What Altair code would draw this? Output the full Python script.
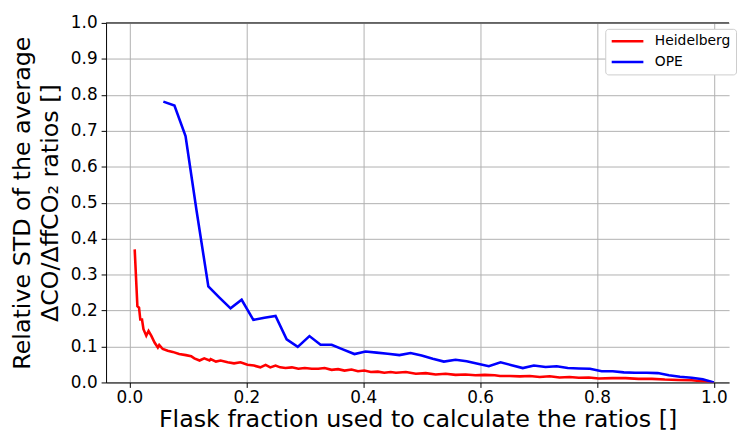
import altair as alt
import pandas as pd

# Heidelberg series
heid_x = [0.009, 0.0136, 0.0164, 0.0186, 0.0215, 0.024, 0.0288, 0.0327, 0.0373, 0.043,
          0.0486, 0.051, 0.057, 0.0655, 0.074, 0.085, 0.0966, 0.1056, 0.111, 0.12,
          0.128, 0.137, 0.139, 0.148, 0.156, 0.168, 0.179, 0.190, 0.202, 0.213,
          0.224, 0.233, 0.241, 0.250, 0.258, 0.267, 0.278, 0.289, 0.300, 0.312,
          0.323, 0.334, 0.346, 0.357, 0.368, 0.380, 0.391, 0.402, 0.413, 0.425,
          0.436, 0.447, 0.456, 0.473, 0.490, 0.507, 0.524, 0.541, 0.558, 0.575,
          0.592, 0.608, 0.625, 0.634, 0.651, 0.668, 0.685, 0.702, 0.719, 0.736,
          0.753, 0.769, 0.786, 0.803, 0.826, 0.849, 0.871, 0.894, 0.916, 0.939,
          0.962, 0.984, 1.0]
heid_y = [0.370, 0.212, 0.208, 0.175, 0.175, 0.148, 0.130, 0.143, 0.130, 0.111,
          0.097, 0.104, 0.093, 0.088, 0.085, 0.079, 0.076, 0.073, 0.067, 0.061,
          0.067, 0.061, 0.065, 0.058, 0.061, 0.056, 0.053, 0.056, 0.049, 0.047,
          0.042, 0.049, 0.042, 0.047, 0.042, 0.040, 0.042, 0.038, 0.040, 0.038,
          0.038, 0.040, 0.035, 0.037, 0.033, 0.036, 0.031, 0.033, 0.029, 0.030,
          0.027, 0.029, 0.027, 0.029, 0.024, 0.026, 0.022, 0.024, 0.021, 0.022,
          0.020, 0.021, 0.020, 0.018, 0.018, 0.017, 0.018, 0.015, 0.017, 0.014,
          0.015, 0.013, 0.014, 0.011, 0.012, 0.012, 0.010, 0.010, 0.008, 0.007,
          0.006, 0.003, 0.0]

# OPE series
ope_x = [0.058, 0.077, 0.096, 0.115, 0.135, 0.154, 0.173, 0.192, 0.212, 0.231,
         0.250, 0.269, 0.288, 0.308, 0.327, 0.346, 0.365, 0.385, 0.404, 0.423,
         0.442, 0.462, 0.481, 0.500, 0.519, 0.538, 0.558, 0.577, 0.596, 0.615,
         0.635, 0.654, 0.673, 0.692, 0.712, 0.731, 0.750, 0.769, 0.788, 0.808,
         0.827, 0.846, 0.865, 0.885, 0.904, 0.923, 0.942, 0.962, 0.981, 1.000]
ope_y = [0.781, 0.770, 0.685, 0.476, 0.267, 0.236, 0.206, 0.230, 0.174, 0.180,
         0.185, 0.120, 0.099, 0.129, 0.105, 0.105, 0.092, 0.079, 0.086, 0.083,
         0.080, 0.076, 0.082, 0.075, 0.066, 0.058, 0.063, 0.059, 0.052, 0.045,
         0.056, 0.048, 0.040, 0.047, 0.043, 0.045, 0.040, 0.039, 0.038, 0.031,
         0.031, 0.028, 0.027, 0.027, 0.026, 0.020, 0.016, 0.013, 0.009, 0.0]

series_names = ["Heidelberg", "OPE"]
series_colors = ["#ff0000", "#0000ff"]
x_ticks = [0.0, 0.2, 0.4, 0.6, 0.8, 1.0]
y_ticks = [0.0, 0.1, 0.2, 0.3, 0.4, 0.5, 0.6, 0.7, 0.8, 0.9, 1.0]
top_line = [1.0]

df = pd.concat([
    pd.DataFrame({"x": heid_x, "y": heid_y, "series": "Heidelberg"}),
    pd.DataFrame({"x": ope_x, "y": ope_y, "series": "OPE"}),
])

FONT = "DejaVu Sans"

xenc = alt.X("x:Q",
             scale=alt.Scale(domain=[-0.04, 1.026], nice=False, zero=False),
             axis=alt.Axis(values=x_ticks, format=".1f", labelOverlap=False,
                           labelPadding=2, titlePadding=2.5,
                           title="Flask fraction used to calculate the ratios []"))
yaxis = alt.Axis(values=y_ticks, format=".1f", labelOverlap=False, tickCount=11,
                 labelPadding=4, titlePadding=8, titleLineHeight=28.5,
                 title=["Relative STD of the average", "ΔCO/ΔffCO₂ ratios []"])
yscale = alt.Scale(domain=[0, 1], nice=False)

lines = alt.Chart(df).mark_line(strokeWidth=2.6, clip=True).encode(
    x=xenc,
    y=alt.Y("y:Q", scale=yscale, axis=yaxis),
    color=alt.Color("series:N",
                    scale=alt.Scale(domain=series_names, range=series_colors),
                    legend=alt.Legend(title=None, orient="none", legendX=504, legendY=6,
                                      symbolType="M-1,0H4.33", symbolSize=144,
                                      symbolStrokeWidth=2.6, labelOffset=30,
                                      labelFontSize=14, labelFont=FONT, labelColor="#000000",
                                      rowPadding=6, padding=5,
                                      fillColor="white", strokeColor="#cccccc",
                                      cornerRadius=3)),
)

top_spine = alt.Chart(pd.DataFrame({"y": top_line})).mark_rule(color="black", strokeWidth=1).encode(
    y=alt.Y("y:Q", scale=yscale, axis=yaxis)
)

chart = alt.layer(lines, top_spine).properties(
    width=629, height=363,
    padding={"left": 2, "top": 4, "right": 0, "bottom": 0},
).configure_view(stroke=None).configure_axis(
    labelFont=FONT, titleFont=FONT, labelFontSize=17, titleFontSize=24,
    labelColor="#000000", titleColor="#000000", titleFontWeight="normal",
    gridColor="#b0b0b0", gridWidth=1, domainColor="#000000", domainWidth=1,
    tickColor="#000000", tickSize=5,
)

chart.save("out.html", embed_options={"renderer": "svg", "actions": False})
